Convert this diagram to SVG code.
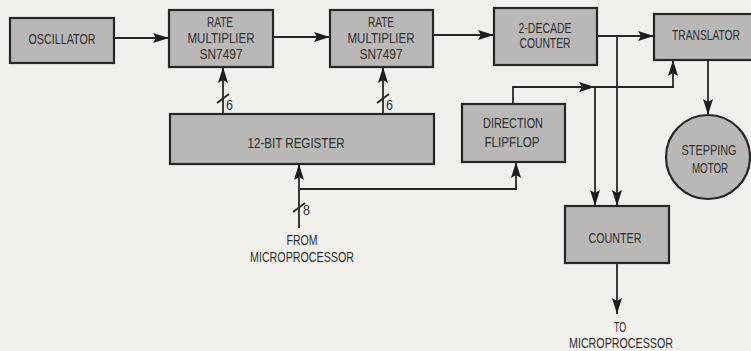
<svg xmlns="http://www.w3.org/2000/svg" width="751" height="351" viewBox="0 0 751 351">
<defs>
<marker id="ah" viewBox="0 0 16 10" refX="16" refY="5" markerWidth="16" markerHeight="10" markerUnits="userSpaceOnUse" orient="auto">
<path d="M0,0 L16,5 L0,10 L3,5 Z" fill="#1e1e1e"/>
</marker>
</defs>
<style>
.box{fill:#b9b8b6;stroke:#262626;stroke-width:2.2}
.ln{fill:none;stroke:#262626;stroke-width:1.8}
.t{font-family:"Liberation Sans",Arial,sans-serif;font-size:14px;fill:#2e2e2e;text-anchor:middle}
.s{font-family:"Liberation Sans",Arial,sans-serif;font-size:14px;fill:#2e2e2e}
</style>
<rect width="751" height="351" fill="#f1f0ec"/>
<g id="connectors">
<line class="ln" x1="114" y1="38" x2="169" y2="38" marker-end="url(#ah)"/>
<line class="ln" x1="273" y1="37" x2="330" y2="37" marker-end="url(#ah)"/>
<line class="ln" x1="433" y1="35" x2="494" y2="35" marker-end="url(#ah)"/>
<line class="ln" x1="597" y1="36" x2="654" y2="36" marker-end="url(#ah)"/>
<line class="ln" x1="617" y1="36" x2="617" y2="206" marker-end="url(#ah)"/>
<polyline class="ln" points="513,104 513,87 595,87" marker-end="url(#ah)"/>
<polyline class="ln" points="590,87 673,87 673,60" marker-end="url(#ah)"/>
<line class="ln" x1="595" y1="87" x2="595" y2="206" marker-end="url(#ah)"/>
<line class="ln" x1="708" y1="60" x2="708" y2="115" marker-end="url(#ah)"/>
<line class="ln" x1="617" y1="263" x2="617" y2="314" marker-end="url(#ah)"/>
<line class="ln" x1="223" y1="114" x2="223" y2="67" marker-end="url(#ah)"/>
<line class="ln" x1="383" y1="114" x2="383" y2="67" marker-end="url(#ah)"/>
<line class="ln" x1="217" y1="103" x2="229" y2="94"/>
<line class="ln" x1="377" y1="103" x2="389" y2="94"/>
<line class="ln" x1="299" y1="228" x2="299" y2="164" marker-end="url(#ah)"/>
<polyline class="ln" points="299,189 516,189 516,162" marker-end="url(#ah)"/>
<line class="ln" x1="293" y1="212" x2="305" y2="203"/>
<text class="s" x="226" y="110" textLength="7" lengthAdjust="spacingAndGlyphs">6</text>
<text class="s" x="386" y="110" textLength="7" lengthAdjust="spacingAndGlyphs">6</text>
<text class="s" x="303" y="215" textLength="7" lengthAdjust="spacingAndGlyphs">8</text>
</g>
<g id="oscillator"><rect class="box" x="10" y="18" width="104" height="45"/><text class="t" x="62" y="44" textLength="67" lengthAdjust="spacingAndGlyphs">OSCILLATOR</text></g>
<g id="rm1"><rect class="box" x="169" y="10" width="104" height="57"/><text class="t" x="220" y="27" textLength="26" lengthAdjust="spacingAndGlyphs">RATE</text><text class="t" x="221" y="43" textLength="67" lengthAdjust="spacingAndGlyphs">MULTIPLIER</text><text class="t" x="221" y="59" textLength="43" lengthAdjust="spacingAndGlyphs">SN7497</text></g>
<g id="rm2"><rect class="box" x="330" y="10" width="103" height="57"/><text class="t" x="381" y="27" textLength="26" lengthAdjust="spacingAndGlyphs">RATE</text><text class="t" x="381" y="43" textLength="67" lengthAdjust="spacingAndGlyphs">MULTIPLIER</text><text class="t" x="381" y="59" textLength="43" lengthAdjust="spacingAndGlyphs">SN7497</text></g>
<g id="decade"><rect class="box" x="494" y="8" width="103" height="57"/><text class="t" x="545" y="33" textLength="53" lengthAdjust="spacingAndGlyphs">2-DECADE</text><text class="t" x="545" y="48" textLength="51" lengthAdjust="spacingAndGlyphs">COUNTER</text></g>
<g id="translator"><rect class="box" x="654" y="14" width="110" height="46"/><text class="t" x="706" y="40" textLength="68" lengthAdjust="spacingAndGlyphs">TRANSLATOR</text></g>
<g id="motor"><circle class="box" cx="708" cy="157" r="42"/><text class="t" x="709" y="155" textLength="55" lengthAdjust="spacingAndGlyphs">STEPPING</text><text class="t" x="710" y="173" textLength="36" lengthAdjust="spacingAndGlyphs">MOTOR</text></g>
<g id="register"><rect class="box" x="170" y="114" width="264" height="50"/><text class="t" x="296" y="148" textLength="97" lengthAdjust="spacingAndGlyphs">12-BIT REGISTER</text></g>
<g id="flipflop"><rect class="box" x="462" y="104" width="103" height="58"/><text class="t" x="513" y="128" textLength="60" lengthAdjust="spacingAndGlyphs">DIRECTION</text><text class="t" x="512" y="147" textLength="55" lengthAdjust="spacingAndGlyphs">FLIPFLOP</text></g>
<g id="counter"><rect class="box" x="565" y="206" width="104" height="57"/><text class="t" x="615" y="243" textLength="53" lengthAdjust="spacingAndGlyphs">COUNTER</text></g>
<g id="from"><text class="t" x="302" y="245" textLength="31" lengthAdjust="spacingAndGlyphs">FROM</text><text class="t" x="302" y="262" textLength="104" lengthAdjust="spacingAndGlyphs">MICROPROCESSOR</text></g>
<g id="to"><text class="t" x="620" y="332" textLength="12" lengthAdjust="spacingAndGlyphs">TO</text><text class="t" x="621" y="348" textLength="104" lengthAdjust="spacingAndGlyphs">MICROPROCESSOR</text></g>
</svg>
